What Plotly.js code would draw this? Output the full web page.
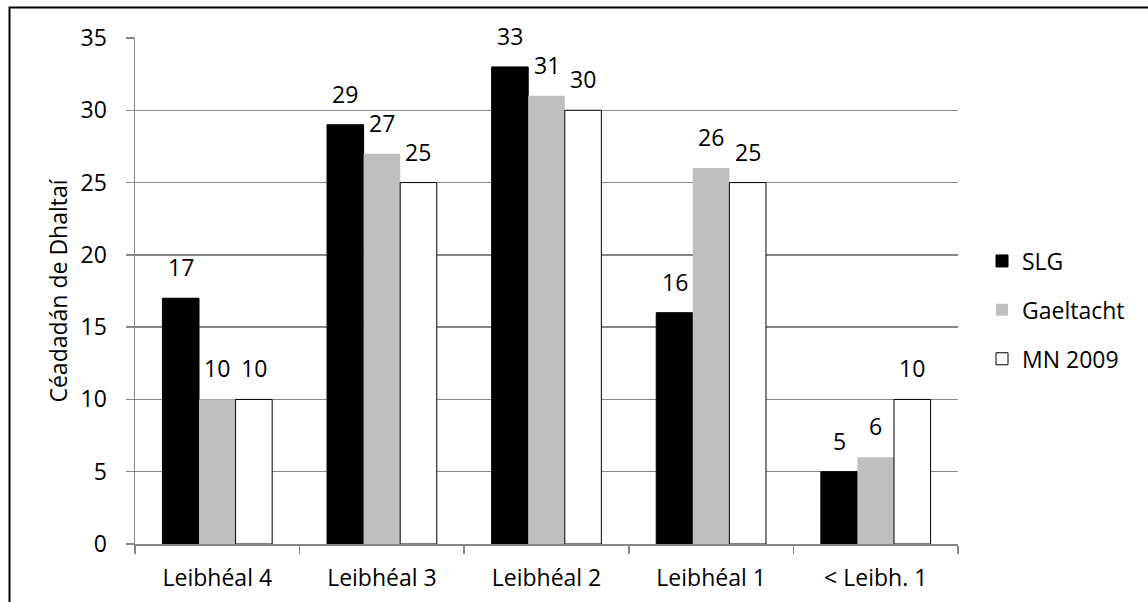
<!DOCTYPE html>
<html><head><meta charset="utf-8">
<script src="https://cdn.plot.ly/plotly-3.0.1.min.js"></script>
<style>html,body{margin:0;padding:0;background:#fff}#chart{width:1148px;height:602px}</style>
</head><body><div id="chart"></div>
<script>
const categories = ["Leibhéal 4", "Leibhéal 3", "Leibhéal 2", "Leibhéal 1", "< Leibh. 1"];
const seriesNames = ["SLG", "Gaeltacht", "MN 2009"];
const slg = [17, 29, 33, 16, 5];
const gaeltacht = [10, 27, 31, 26, 6];
const mn2009 = [10, 25, 30, 25, 10];
const yTickVals = [0, 5, 10, 15, 20, 25, 30, 35];
const yTitle = "Céadadán de Dhaltaí";

const W = 1148, H = 602;
const M = {l: 135, r: 190, t: 38, b: 58};
const BARGAP = 1/3;
const FONT = "Open Sans, sans-serif";
const FS = 23;
const GRID = "#868686";

const series = [slg, gaeltacht, mn2009];
const fills = ["#000000", "#BFBFBF", "#FFFFFF"];
const lineW = [1, 0, 1];

const traces = series.map((vals, i) => ({
  type: "bar",
  name: seriesNames[i],
  x: categories,
  y: vals,
  legendgroup: "g" + i,
  marker: {color: fills[i], line: {color: "#000000", width: lineW[i]}},
  hoverinfo: "skip"
}));

const plotW = W - M.l - M.r;
const barPx = plotW / categories.length * (1 - BARGAP) / series.length;
const annotations = [];
series.forEach((vals, i) => {
  vals.forEach((v, j) => {
    annotations.push({
      x: categories[j], y: v, xref: "x", yref: "y",
      text: String(v), showarrow: false,
      xanchor: "center", yanchor: "bottom",
      xshift: (i - 1) * barPx, yshift: 13,
      font: {family: FONT, size: FS, color: "#000"}
    });
  });
});

const px2paperX = p => (p - M.l) / plotW;
const plotH = H - M.t - M.b;
const px2paperY = p => (H - M.b - p) / plotH;

const layout = {
  width: W, height: H,
  margin: M,
  paper_bgcolor: "#fff", plot_bgcolor: "#fff",
  font: {family: FONT, size: FS, color: "#000"},
  barmode: "group",
  bargap: BARGAP, bargroupgap: 0,
  showlegend: true,
  legend: {
    x: px2paperX(982), xanchor: "left",
    y: px2paperY(310), yanchor: "middle",
    tracegroupgap: 16,
    font: {family: FONT, size: FS, color: "#000"},
    bgcolor: "rgba(0,0,0,0)"
  },
  xaxis: {
    type: "category",
    showgrid: false,
    showline: true, linecolor: GRID, linewidth: 1.5,
    ticks: "outside", tickson: "boundaries", ticklen: 8, tickcolor: GRID, tickwidth: 1.5,
    ticklabelstandoff: 13,
    tickfont: {family: FONT, size: FS, color: "#000"},
    automargin: false, fixedrange: true
  },
  yaxis: {
    range: [0, 35],
    tickvals: yTickVals,
    showgrid: true, gridcolor: GRID, gridwidth: 1.5,
    showline: true, linecolor: GRID, linewidth: 1.5,
    ticks: "outside", ticklen: 8, tickcolor: GRID, tickwidth: 1.5,
    ticklabelstandoff: 14,
    zeroline: false,
    tickfont: {family: FONT, size: FS, color: "#000"},
    title: {text: yTitle, font: {family: FONT, size: FS, color: "#000"}, standoff: 6},
    automargin: false, fixedrange: true
  },
  annotations: annotations,
  shapes: [{
    type: "rect", xref: "paper", yref: "paper",
    x0: px2paperX(9.5), x1: px2paperX(1200),
    y0: px2paperY(700), y1: px2paperY(7.5),
    line: {color: "#000", width: 2}, fillcolor: "rgba(0,0,0,0)", layer: "below"
  }]
};

Plotly.newPlot("chart", traces, layout, {displayModeBar: false, staticPlot: true});
</script></body></html>
